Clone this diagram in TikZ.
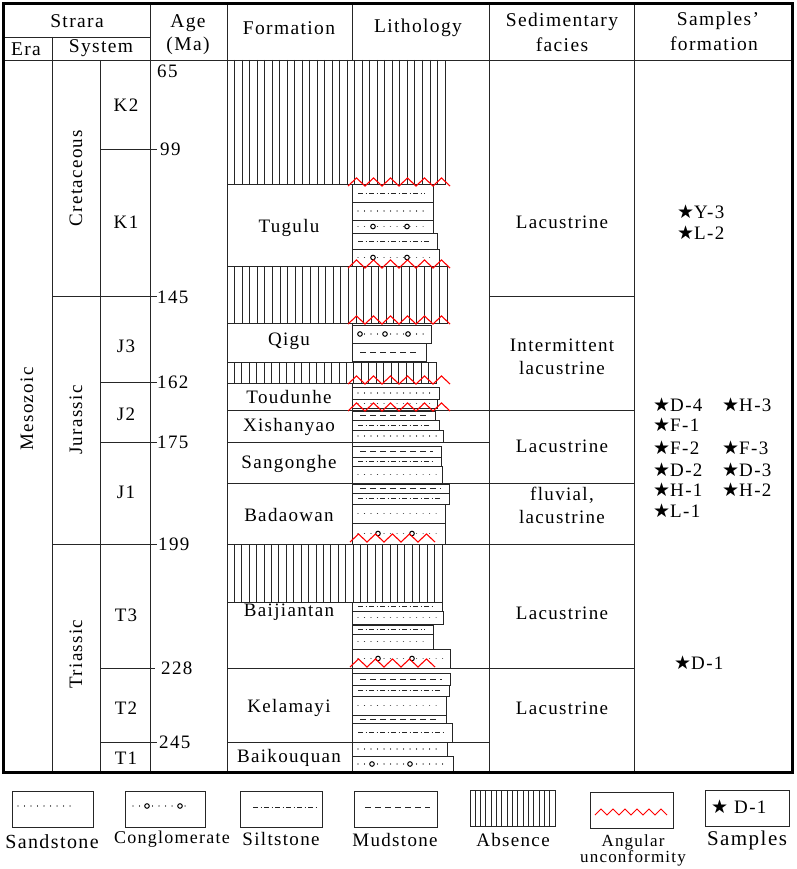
\documentclass[tikz,border=0pt]{standalone}
\usepackage{fontspec}
\setmainfont{Liberation Serif}[LetterSpace=7]
\newfontfamily\symf{DejaVu Sans}
\tikzset{
  grid/.style={line width=0.9pt, draw=black!85},
  frame/.style={line width=3pt, draw=black},
  lbox/.style={line width=0.9pt, draw=black!85, fill=white},
  sandp/.style={line width=1.2pt, dash pattern=on 0.01pt off 6.5pt, line cap=round, black!75},
  siltp/.style={line width=0.9pt, dash pattern=on 5pt off 2.5pt on 1pt off 2.5pt, black!85},
  mudp/.style={line width=0.9pt, dash pattern=on 6pt off 4pt, black!85},
  pebble/.style={line width=1pt, draw=black, fill=white},
  uncf/.style={draw=red, line width=1.1pt, line join=miter},
  hdr/.style={font=\fontsize{19.5}{21}\selectfont, inner sep=0pt},
  lbl/.style={font=\fontsize{19}{21}\selectfont, inner sep=0pt},
  smp/.style={font=\fontsize{19}{21}\selectfont, inner sep=0pt, anchor=west},
}
% layers: top, bottom, right
\newcommand\sandL[3]{\draw[lbox] (352,#1) rectangle (#3,#2);
  \draw[sandp] (358,{(#1+#2)/2}) -- ({#3-5},{(#1+#2)/2});}
\newcommand\siltL[3]{\draw[lbox] (352,#1) rectangle (#3,#2);
  \draw[siltp] (358,{(#1+#2)/2}) -- ({#3-8},{(#1+#2)/2});}
\newcommand\mudL[3]{\draw[lbox] (352,#1) rectangle (#3,#2);
  \draw[mudp] (360,{(#1+#2)/2}) -- ({#3-8},{(#1+#2)/2});}
\newcommand\conglL[4]{\draw[lbox] (352,#1) rectangle (#3,#2);
  \draw[sandp] (358,{(#1+#2)/2}) -- ({#3-5},{(#1+#2)/2});
  \foreach \cx in {#4} {\draw[pebble] (\cx,{(#1+#2)/2}) circle (2.3pt);}}
% hatch block: x0,y0,x1,y1,n inner lines
\newcommand\hatchblk[5]{\draw[grid, fill=white] (#1,#2) rectangle (#3,#4);
  \foreach \i in {1,...,#5} {\draw[grid] ({#1+\i*(#3-#1)/(#5+1)},#2) -- ({#1+\i*(#3-#1)/(#5+1)},#4);}}
% unconformity: y, x0, number of teeth
\newcommand\zz[3]{\draw[uncf] (#2,{#1+2}) \foreach \i in {1,...,#3} { -- ++(8.5,-8) -- ++(8.5,8)};}

\begin{document}
\begin{tikzpicture}[x=1pt,y=-1pt]
\useasboundingbox (0,0) rectangle (796,869);
\fill[white] (0,0) rectangle (796,869);

% ---------- grid ----------
\draw[grid] (3,37) -- (150,37);
\draw[grid] (3,60) -- (793,60);
\draw[grid] (52,37) -- (52,772);
\draw[grid] (100,60) -- (100,772);
\foreach \cx in {150,227,352,489,634} {\draw[grid] (\cx,3) -- (\cx,772);}
% age ticks
\draw[grid] (100,149) -- (157,149);
\draw[grid] (52,296) -- (157,296);
\draw[grid] (100,382) -- (157,382);
\draw[grid] (100,442) -- (157,442);
\draw[grid] (52,544) -- (157,544);
\draw[grid] (100,668) -- (155,668);
\draw[grid] (100,742) -- (157,742);
% formation / facies boundaries
\draw[grid] (489,296) -- (634,296);
\draw[grid] (227,410) -- (634,410);
\draw[grid] (227,442) -- (489,442);
\draw[grid] (227,483) -- (634,483);
\draw[grid] (227,544) -- (634,544);
\draw[grid] (227,668) -- (634,668);
\draw[grid] (227,742) -- (489,742);

% ---------- absence blocks ----------
\hatchblk{227}{60}{445}{184}{28}
\hatchblk{227}{266}{447}{323}{28}
\hatchblk{227}{362}{436}{383}{27}
\hatchblk{227}{544}{442}{602}{28}

% ---------- lithology ----------
% Tugulu
\siltL{184}{202}{433}
\sandL{202}{220}{433}
\conglL{220}{233}{433}{373,407}
\siltL{233}{249}{437}
\conglL{249}{266}{439}{373,407}
% Qigu
\conglL{325}{343}{431}{360,385,408}
\mudL{343}{361}{426}
% Toudunhe
\sandL{387}{399}{439}
\sandL{399}{408}{437}
% Xishanyao
\mudL{411}{420}{435}
\siltL{420}{430}{439}
\sandL{430}{442}{443}
% Sangonghe
\mudL{446}{457}{441}
\siltL{457}{466}{441}
\sandL{466}{483}{442}
% Badaowan
\mudL{484}{493}{449}
\siltL{493}{504}{449}
\sandL{504}{523}{445}
\conglL{523}{544}{445}{378,412}
% Baijiantan
\siltL{602}{611}{442}
\sandL{611}{624}{443}
\siltL{625}{634}{433}
\sandL{634}{649}{433}
\conglL{649}{668}{450}{378,412}
% Kelamayi
\mudL{673}{685}{450}
\siltL{685}{696}{449}
\sandL{696}{715}{446}
\mudL{715}{723}{446}
\siltL{723}{742}{452}
% Baikouquan
\sandL{742}{756}{447}
\conglL{756}{772}{453}{372,410}

% unconformities
\zz{184}{348}{6}
\zz{266}{348}{6}
\zz{322}{348}{6}
\zz{382}{348}{6}
\zz{409}{348}{6}
\zz{540}{350}{5}
\zz{665}{350}{5}

% outer frame
\draw[frame] (3.5,3.5) rectangle (792.5,772);

% ---------- header ----------
\node[hdr] (hStrara) at (77,21) {Strara};
\node[hdr] (hEra) at (26,49) {Era};
\node[hdr] (hSystem) at (101,48) {System};
\node[hdr] (hAge) at (188,23) {Age};
\node[hdr] (hMa) at (188,46) {(Ma)};
\node[hdr] (hForm) at (289,28) {Formation};
\node[hdr] (hLith) at (418,28) {Lithology};
\node[hdr] (hSed) at (562,22) {Sedimentary};
\node[hdr] (hFac) at (562,45) {facies};
\node[hdr] (hSam) at (718,21) {Samples'};
\node[hdr] (hSamf) at (714,44) {formation};

% ---------- strata ----------
\node[lbl, rotate=90] (meso) at (27,409) {Mesozoic};
\node[lbl, rotate=90] (cret) at (76,178) {Cretaceous};
\node[lbl, rotate=90] (jur) at (76,420) {Jurassic};
\node[lbl, rotate=90] (tri) at (76,654) {Triassic};
\node[lbl] (k2) at (126,105) {K2};
\node[lbl] (k1) at (126,222) {K1};
\node[lbl] (j3) at (126,346) {J3};
\node[lbl] (j2) at (126,414) {J2};
\node[lbl] (j1) at (126,492) {J1};
\node[lbl] (t3) at (126,615) {T3};
\node[lbl] (t2) at (126,708) {T2};
\node[lbl] (t1) at (126,758) {T1};
% ages
\node[lbl, anchor=west] (a65) at (157,71) {65};
\node[lbl, anchor=west] (a99) at (160,149) {99};
\node[lbl, anchor=west] (a145) at (157,297) {145};
\node[lbl, anchor=west] (a162) at (157,382) {162};
\node[lbl, anchor=west] (a175) at (157,442) {175};
\node[lbl, anchor=west] (a199) at (158,544) {199};
\node[lbl, anchor=west] (a228) at (161,668) {228};
\node[lbl, anchor=west] (a245) at (159,742) {245};
% formations
\node[lbl] (fTug) at (289,228) {Tugulu};
\node[lbl] (fQig) at (289,341) {Qigu};
\node[lbl] (fTou) at (289,397) {Toudunhe};
\node[lbl] (fXis) at (289,427) {Xishanyao};
\node[lbl] (fSan) at (289,464) {Sangonghe};
\node[lbl] (fBad) at (289,515) {Badaowan};
\node[lbl] (fBai) at (289,612) {Baijiantan};
\node[lbl] (fKel) at (289,708) {Kelamayi};
\node[lbl] (fBak) at (289,758) {Baikouquan};
% facies
\node[lbl] (s1) at (562,222) {Lacustrine};
\node[lbl, align=center] (s2) at (562,357) {Intermittent\\[2pt]lacustrine};
\node[lbl] (s3) at (562,446) {Lacustrine};
\node[lbl, align=center] (s4) at (562,505) {fluvial,\\[2pt]lacustrine};
\node[lbl] (s5) at (562,613) {Lacustrine};
\node[lbl] (s6) at (562,708) {Lacustrine};
% samples
\node[smp] (pY3) at (677,212) {{\symf ★}Y-3};
\node[smp] (pL2) at (677,233) {{\symf ★}L-2};
\node[smp] (pD4) at (653,405) {{\symf ★}D-4};
\node[smp] (pH3) at (722,405) {{\symf ★}H-3};
\node[smp] (pF1) at (653,425) {{\symf ★}F-1};
\node[smp] (pF2) at (653,448) {{\symf ★}F-2};
\node[smp] (pF3) at (722,448) {{\symf ★}F-3};
\node[smp] (pD2) at (653,470) {{\symf ★}D-2};
\node[smp] (pD3) at (722,470) {{\symf ★}D-3};
\node[smp] (pH1) at (653,490) {{\symf ★}H-1};
\node[smp] (pH2) at (722,490) {{\symf ★}H-2};
\node[smp] (pL1) at (653,511) {{\symf ★}L-1};
\node[smp] (pD1) at (674,663) {{\symf ★}D-1};

% ---------- legend ----------
\draw[grid] (12,791) rectangle (93,827);
\draw[sandp] (18,806) -- (74,806);
\node[lbl, font=\fontsize{20}{22}\selectfont] (lSand) at (52,842) {Sandstone};

\draw[grid] (125,791) rectangle (205,827);
\draw[sandp] (133,806) -- (191,806);
\draw[pebble] (147,806) circle (2.3pt);
\draw[pebble] (180,806) circle (2.3pt);
\node[lbl, font=\fontsize{18}{20}\selectfont] (lCong) at (172,839) {Conglomerate};

\draw[grid] (240,791) rectangle (322,827);
\draw[siltp] (253,807) -- (316,807);
\node[lbl] (lSilt) at (281,839) {Siltstone};

\draw[grid] (354,791) rectangle (437,827);
\draw[mudp] (365,807) -- (430,807);
\node[lbl] (lMud) at (395,840) {Mudstone};

\hatchblk{470}{790}{555}{826}{15}
\node[lbl] (lAbs) at (513,840) {Absence};

\draw[grid] (590,792) rectangle (673,828);
\draw[uncf, line width=1pt] (595,815) \foreach \i in {1,...,6} { -- ++(6,-6) -- ++(6,6)};
\node[lbl, font=\fontsize{17}{19}\selectfont] (lAng1) at (633,842) {Angular};
\node[lbl, font=\fontsize{17}{19}\selectfont] (lAng2) at (633,858) {unconformity};

\draw[grid] (705,790) rectangle (789,826);
\node[lbl, anchor=west] (lD1) at (711,807) {{\symf ★}\hspace{6pt}D-1};
\node[lbl, font=\fontsize{21}{23}\selectfont] (lSmp) at (747,840) {Samples};
\end{tikzpicture}
\end{document}
